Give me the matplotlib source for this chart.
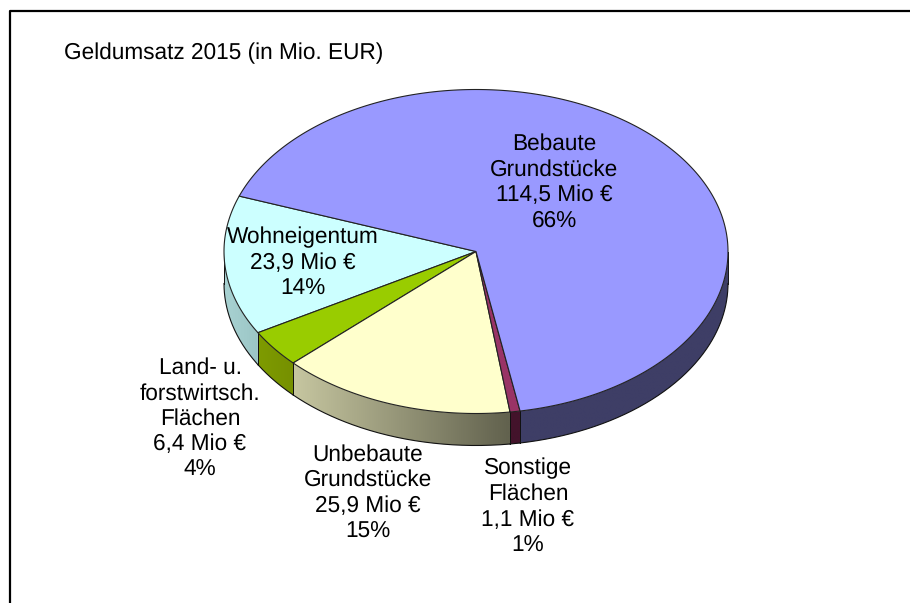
import numpy as np
import matplotlib
matplotlib.use("Agg")
import matplotlib.pyplot as plt
from matplotlib.colors import to_rgb
from matplotlib.patches import Polygon

plt.rcParams['font.family'] = ['Liberation Sans', 'DejaVu Sans']
plt.rcParams['text.hinting'] = 'no_hinting'

# data
names = ['Wohneigentum', 'Land- u.\nforstwirtsch.\nFlächen', 'Unbebaute\nGrundstücke',
         'Sonstige\nFlächen', 'Bebaute\nGrundstücke']
values = [23.9, 6.4, 25.9, 1.1, 114.5]
shares = [14, 4, 15, 1, 66]
value_labels = ['23,9', '6,4', '25,9', '1,1', '114,5']
top_colors = ['#CCFFFF', '#99CC00', '#FFFFCC', '#993366', '#9999FF']
side_start = ['#A8D2D2', '#7E9B00', '#C6C6A0', '#43132B', '#3E3E66']
side_end = ['#9CC6C6', '#769000', '#62624E', '#43132B', '#3E3E66']
label_pos = [(303, 263), (200, 419), (368, 493), (528, 507), (554, 182.5)]

# pie geometry, in pixels of the picture
cx, cy = 476, 251.5
rx, ry = 252, 162
depth = 32
start_angle = 160


def rim(t):
    return cx + rx * np.cos(t), cy - ry * np.sin(t)


fig = plt.figure(figsize=(9.10, 6.03), dpi=100)
ax = fig.add_axes([0, 0, 1, 1])

# chart frame, cut off by the picture on the right and at the bottom
ax.plot([10, 10, 910], [603, 11, 11], color='black', lw=1.6, zorder=1)

angles = np.cumsum([0] + list(values)) / sum(values) * 360 + start_angle

# side walls, only the part of the rim facing the viewer
for i in range(len(values)):
    a0, a1 = angles[i], angles[i + 1]
    for s0, s1 in [(max(a0, 180), min(a1, 360)), (max(a0, 540), min(a1, 720))]:
        if s1 <= s0:
            continue
        t = np.radians(np.linspace(s0, s1, 200))
        x, y = rim(t)
        outline = list(zip(x, y)) + list(zip(x[::-1], y[::-1] + depth))
        # horizontal gradient, clipped to the wall
        grad = np.linspace(to_rgb(side_start[i]), to_rgb(side_end[i]), 64)[np.newaxis, :, :]
        im = ax.imshow(grad, extent=[x.min(), x.max(), y.max() + depth, y.min()],
                       aspect='auto', interpolation='bilinear', zorder=2)
        im.set_clip_path(Polygon(outline, closed=True, transform=ax.transData))
        ax.plot(x, y + depth, color='#111111', lw=0.8, zorder=3)
        ax.plot([x[0], x[0]], [y[0], y[0] + depth], color='#111111', lw=0.7, zorder=3)
        ax.plot([x[-1], x[-1]], [y[-1], y[-1] + depth], color='#111111', lw=0.7, zorder=3)

# top faces
for i in range(len(values)):
    t = np.radians(np.linspace(angles[i], angles[i + 1], 300))
    x, y = rim(t)
    pts = [(cx, cy)] + list(zip(x, y))
    ax.add_patch(Polygon(pts, closed=True, facecolor=top_colors[i], edgecolor='#222222',
                         lw=0.8, zorder=4, joinstyle='round'))

ax.text(64, 53.5, 'Geldumsatz 2015 (in Mio. EUR)', fontsize=16.3, ha='left', va='center',
        color='black', zorder=6)

for i in range(len(values)):
    txt = names[i] + '\n' + value_labels[i] + ' Mio €\n' + str(shares[i]) + '%'
    ax.text(label_pos[i][0], label_pos[i][1], txt, fontsize=16.3, ha='center', va='center',
            linespacing=1.25, color='black', zorder=6)

ax.set_xlim(0, 910)
ax.set_ylim(603, 0)
ax.axis('off')

fig.savefig('out.png', dpi=100)
